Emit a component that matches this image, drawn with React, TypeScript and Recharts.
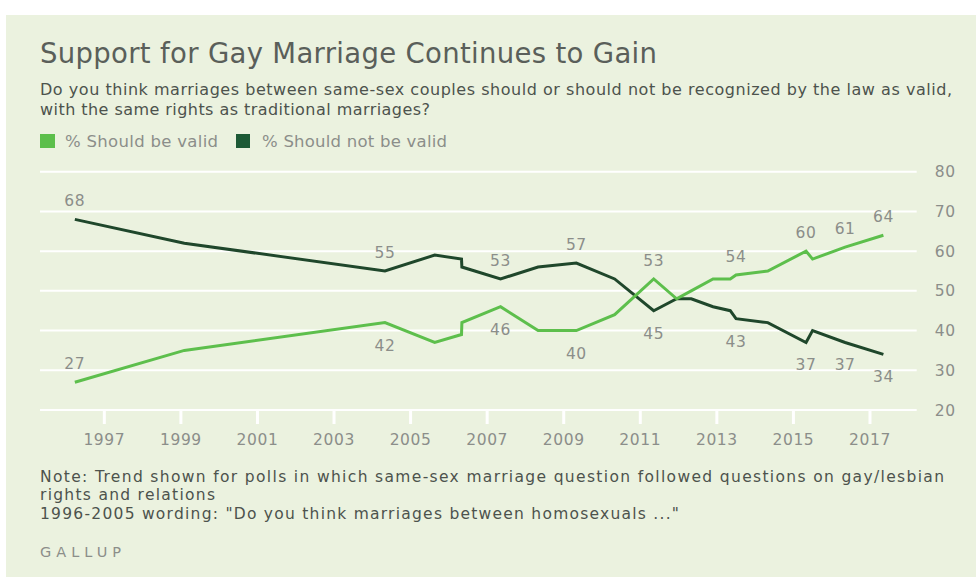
import React from 'react';
import { LineChart, Line, XAxis, YAxis, CartesianGrid, LabelList } from 'recharts';

// ---- data ----
const pollDates = [1996.23, 1999.09, 2004.33, 2005.63, 2006.33, 2006.34, 2007.35, 2008.33, 2009.33, 2010.33, 2011.35, 2011.95, 2012.33, 2012.9, 2013.35, 2013.5, 2014.33, 2015.33, 2015.5, 2016.35, 2017.35];
const shouldBeValid = [27, 35, 42, 37, 39, 42, 46, 40, 40, 44, 53, 48, 50, 53, 53, 54, 55, 60, 58, 61, 64];
const shouldNotBeValid = [68, 62, 55, 59, 58, 56, 53, 56, 57, 53, 45, 48, 48, 46, 45, 43, 42, 37, 40, 37, 34];
const validLabelPos = ['up', '', 'down', '', '', '', 'down', '', 'down', '', 'up', '', '', '', '', 'up', '', 'up', '', 'up', 'up'];
const notValidLabelPos = ['up', '', 'up', '', '', '', 'up', '', 'up', '', 'down', '', '', '', '', 'down', '', 'down', '', 'down', 'down'];
const xTicks = [1997, 1999, 2001, 2003, 2005, 2007, 2009, 2011, 2013, 2015, 2017];
const yTicks = [20, 30, 40, 50, 60, 70, 80];

const rows = pollDates.map((d, i) => ({
  date: d,
  valid: shouldBeValid[i],
  notValid: shouldNotBeValid[i],
}));

const FONT = '"DejaVu Sans", "Liberation Sans", sans-serif';
const LIGHT = '#5dbf4c';
const DARK = '#1f472b';
const GRAY = '#8b8e8a';

const makeLabel = (pos: string[]) => (props: any) => {
  const { x, y, value, index } = props;
  const p = pos[index];
  if (!p) return null;
  const ty = p === 'up' ? y - 18 : y + 23;
  return (
    <text
      x={x}
      y={ty}
      textAnchor="middle"
      dominantBaseline="central"
      fill={GRAY}
      fontSize={15.5}
      fontFamily={FONT}
      letterSpacing={0.6}
    >
      {value}
    </text>
  );
};

const T = (p: { x: number; y: number; size: number; fill: string; w: number; children: string; weight?: number }) => (
  <text
    x={p.x}
    y={p.y}
    fontSize={p.size}
    fill={p.fill}
    fontFamily={FONT}
    fontWeight={p.weight || 400}
    textLength={p.w}
    lengthAdjust="spacing"
  >
    {p.children}
  </text>
);

export default function App() {
  return (
    <div style={{ position: 'absolute', left: 0, top: 0, width: 976, height: 581, background: '#ffffff', overflow: 'hidden' }}>
      <svg width={976} height={581} style={{ position: 'absolute', left: 0, top: 0 }}>
        <rect x={6} y={15} width={970} height={562} fill="#ebf2df" />
        <T x={40} y={63} size={27.5} fill="#5a5f5a" w={617}>Support for Gay Marriage Continues to Gain</T>
        <T x={40} y={95} size={16} fill="#4d534d" w={912}>Do you think marriages between same-sex couples should or should not be recognized by the law as valid,</T>
        <T x={40} y={115} size={16} fill="#4d534d" w={390}>with the same rights as traditional marriages?</T>
        <rect x={40} y={134} width={15} height={14} fill="#5cbf4b" />
        <T x={65} y={147} size={16.5} fill={GRAY} w={153}>% Should be valid</T>
        <rect x={236} y={134} width={14} height={14} fill="#1d5a36" />
        <T x={262} y={147} size={16.5} fill={GRAY} w={185}>% Should not be valid</T>
        <T x={40} y={481.5} size={15.5} fill="#4d534d" w={904}>Note: Trend shown for polls in which same-sex marriage question followed questions on gay/lesbian</T>
        <T x={40} y={500} size={15.5} fill="#4d534d" w={175}>rights and relations</T>
        <T x={40} y={518.5} size={15.5} fill="#4d534d" w={639}>1996-2005 wording: "Do you think marriages between homosexuals ..."</T>
        <T x={40} y={557} size={14.5} fill={GRAY} w={81}>GALLUP</T>
      </svg>
      <div style={{ position: 'absolute', left: 0, top: 0 }}>
        <LineChart width={976} height={460} data={rows} margin={{ top: 171.7, right: 0, bottom: 30, left: 40 }}>
          <CartesianGrid horizontal={true} vertical={false} stroke="#ffffff" strokeWidth={2} />
          <XAxis
            dataKey="date"
            type="number"
            domain={[1995.32, 2018.22]}
            ticks={xTicks}
            allowDataOverflow
            height={20}
            axisLine={false}
            tickLine={{ stroke: '#ffffff', strokeWidth: 3 }}
            tickSize={14}
            tickMargin={10}
            tick={{ fill: GRAY, fontSize: 15.5, fontFamily: FONT, letterSpacing: 0.6 }}
            interval={0}
          />
          <YAxis
            orientation="right"
            type="number"
            domain={[20, 80]}
            ticks={yTicks}
            width={59.3}
            axisLine={false}
            tickLine={false}
            tickSize={0}
            tickMargin={18}
            tick={{ fill: GRAY, fontSize: 15.5, fontFamily: FONT, letterSpacing: 0.6, textAnchor: 'start' }}
            interval={0}
          />
          <Line type="linear" dataKey="notValid" stroke={DARK} strokeWidth={3} dot={false} isAnimationActive={false}>
            <LabelList dataKey="notValid" content={makeLabel(notValidLabelPos)} />
          </Line>
          <Line type="linear" dataKey="valid" stroke={LIGHT} strokeWidth={3} dot={false} isAnimationActive={false}>
            <LabelList dataKey="valid" content={makeLabel(validLabelPos)} />
          </Line>
        </LineChart>
      </div>
    </div>
  );
}
